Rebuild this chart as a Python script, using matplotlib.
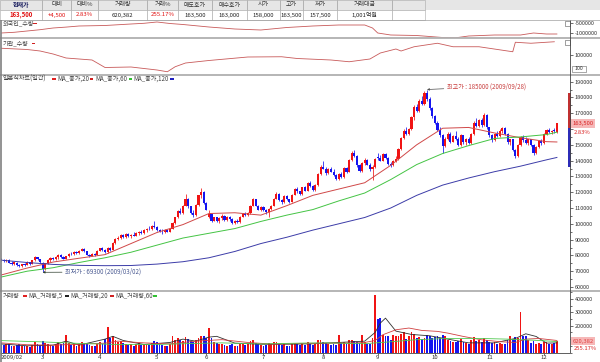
import numpy as np
import matplotlib
matplotlib.use('Agg')
import matplotlib.pyplot as plt
from matplotlib.patches import Rectangle
from matplotlib.ticker import MultipleLocator

plt.rcParams['font.family'] = ['Noto Sans CJK KR', 'DejaVu Sans']

# daily candles, thousand won (2009/02 .. 2009/12)
opens = [77.5, 77.0, 76.5, 77.0, 75.5, 74.5, 75.5, 74.0, 73.2, 74.5, 74.0, 75.8, 74.6, 76.8, 78.8, 77.5,
         75.5, 71.5, 75.0, 77.0, 78.2, 77.5, 79.0, 80.5, 79.0, 78.0, 79.5, 81.2, 80.6, 82.0, 81.5, 83.0,
         84.2, 82.5, 80.5, 79.8, 81.0, 80.2, 83.0, 84.5, 83.2, 82.0, 85.0, 83.5, 88.0, 90.5, 91.0, 93.0,
         91.5, 93.5, 92.0, 93.2, 92.5, 94.0, 95.0, 94.0, 96.0, 97.0, 96.5, 98.5, 98.0, 96.0, 95.0, 94.5,
         96.0, 95.0, 97.0, 100.5, 104.0, 108.0, 107.0, 111.5, 116.0, 111.0, 107.0, 105.5, 112.0, 118.0,
         120.0, 113.0, 104.0, 106.0, 102.0, 104.0, 101.5, 103.5, 105.0, 102.5, 104.5, 102.8, 100.5, 102.0,
         101.0, 104.5, 106.5, 105.5, 107.0, 111.5, 115.5, 111.5, 109.0, 110.5, 108.5, 107.5, 109.5, 111.5,
         116.0, 119.0, 115.0, 113.5, 117.5, 115.5, 114.0, 118.5, 122.0, 120.5, 119.0, 123.0, 121.0, 126.0,
         124.0, 121.5, 124.5, 131.5, 136.0, 135.0, 132.0, 135.0, 133.0, 131.0, 128.5, 131.5, 129.5, 135.5,
         133.0, 140.5, 145.0, 143.0, 137.0, 133.5, 138.5, 140.5, 137.5, 134.5, 136.0, 142.5, 141.5, 140.0,
         144.5, 141.5, 138.0, 137.0, 140.0, 141.0, 147.5, 154.5, 158.5, 157.0, 160.0, 167.5, 174.0, 171.5,
         178.0, 176.0, 183.0, 179.0, 173.0, 168.0, 164.0, 159.5, 156.0, 149.0, 154.0, 157.0, 152.0, 155.5,
         154.0, 150.0, 156.0, 151.5, 153.5, 151.0, 157.0, 164.0, 162.0, 166.0, 162.5, 169.0, 161.0, 156.0,
         153.0, 157.0, 155.5, 159.0, 160.5, 157.0, 151.5, 153.5, 147.0, 143.0, 150.0, 155.0, 153.0, 151.0,
         153.5, 150.0, 145.0, 148.5, 152.5, 151.0, 157.0, 159.5, 158.0, 159.5, 158.0]
highs = [78.5, 78.0, 77.8, 77.5, 76.5, 76.0, 76.0, 74.5, 74.8, 75.5, 76.2, 76.0, 77.0, 79.5, 79.2, 78.0,
         76.0, 75.5, 77.5, 78.8, 79.0, 79.5, 81.0, 81.0, 79.5, 79.8, 81.8, 82.0, 82.5, 82.8, 83.5, 84.7,
         84.5, 83.0, 81.2, 81.5, 81.5, 83.5, 85.0, 85.2, 84.0, 85.5, 85.5, 88.5, 91.0, 92.0, 93.5, 93.5,
         94.0, 94.2, 93.8, 94.5, 94.5, 95.5, 96.0, 96.5, 97.5, 98.5, 99.0, 102.0, 98.5, 97.0, 96.5, 96.5,
         96.8, 97.5, 101.0, 104.5, 108.5, 110.0, 112.0, 119.0, 116.5, 111.5, 108.5, 112.5, 118.5, 122.6,
         120.5, 113.5, 109.0, 106.5, 104.5, 104.5, 104.0, 106.0, 105.5, 105.0, 105.0, 103.5, 102.5, 103.0,
         105.0, 107.0, 107.5, 107.5, 112.0, 116.5, 116.0, 112.0, 111.0, 111.0, 109.5, 110.0, 112.0, 116.5,
         120.0, 119.5, 116.0, 118.0, 118.0, 116.0, 119.0, 122.5, 123.0, 121.0, 123.5, 124.0, 126.5, 127.0,
         124.5, 125.0, 132.0, 137.0, 140.0, 136.0, 135.5, 136.0, 134.5, 131.5, 132.0, 133.0, 136.0, 136.0,
         141.0, 146.0, 146.5, 143.5, 138.0, 139.0, 141.5, 141.0, 138.5, 137.0, 141.5, 145.0, 143.5, 145.0,
         145.0, 142.0, 139.0, 140.5, 143.0, 148.0, 155.0, 160.0, 161.0, 160.5, 168.0, 175.0, 176.0, 179.0,
         181.0, 184.0, 185.0, 180.0, 174.0, 169.0, 165.0, 161.0, 157.0, 155.0, 158.0, 158.0, 156.5, 158.5,
         155.0, 157.0, 156.5, 154.5, 155.0, 157.5, 165.0, 167.0, 166.5, 167.0, 170.0, 169.5, 161.5, 157.0,
         157.5, 158.5, 160.0, 161.0, 161.0, 157.5, 154.0, 154.0, 147.5, 150.5, 155.5, 156.0, 155.0, 154.0,
         154.0, 150.5, 149.0, 153.0, 153.5, 157.5, 160.0, 160.5, 159.5, 160.5, 163.5]
lows = [76.5, 76.0, 75.8, 75.0, 74.0, 74.0, 73.5, 72.8, 72.5, 73.5, 73.8, 74.2, 74.5, 76.5, 77.0, 75.5,
        69.3, 71.0, 74.5, 76.0, 76.8, 77.0, 78.0, 78.5, 77.5, 77.5, 79.0, 80.0, 80.2, 80.8, 81.0, 82.5,
        82.0, 80.0, 79.2, 79.5, 79.5, 80.0, 82.5, 82.8, 81.5, 81.8, 83.0, 83.2, 87.5, 89.5, 90.5, 90.8,
        91.0, 91.5, 91.0, 92.0, 92.0, 93.0, 93.5, 93.8, 95.0, 96.0, 96.0, 97.5, 95.5, 94.5, 93.8, 94.0,
        94.5, 94.8, 96.5, 100.0, 103.5, 106.0, 106.5, 111.0, 110.0, 106.5, 104.5, 105.0, 111.5, 116.5,
        112.5, 108.5, 103.5, 101.0, 101.5, 101.0, 100.5, 102.5, 102.0, 102.0, 102.0, 100.0, 99.8, 100.5,
        100.8, 104.0, 105.0, 105.0, 106.5, 111.0, 111.0, 108.5, 108.0, 108.0, 106.5, 104.0, 109.0, 111.0,
        115.5, 114.5, 112.5, 113.0, 115.0, 113.0, 113.5, 118.0, 119.5, 118.0, 118.5, 120.5, 120.5, 123.5,
        120.5, 121.0, 124.0, 131.0, 134.5, 131.0, 131.5, 132.5, 130.5, 128.0, 128.0, 129.0, 129.0, 132.0,
        132.5, 140.0, 142.0, 136.0, 132.5, 133.0, 137.5, 137.0, 133.5, 127.7, 135.5, 140.5, 139.5, 139.5,
        141.0, 137.5, 136.0, 136.5, 139.0, 140.5, 147.0, 153.5, 156.0, 156.5, 159.5, 166.0, 170.5, 171.0,
        175.0, 175.5, 178.0, 172.0, 167.0, 163.0, 158.5, 155.0, 145.0, 148.5, 153.0, 151.0, 151.5, 153.0,
        149.0, 149.5, 150.5, 150.0, 150.5, 150.5, 156.5, 161.0, 161.5, 161.5, 162.0, 160.0, 155.0, 152.0,
        152.5, 155.0, 155.0, 157.5, 156.0, 150.5, 150.0, 146.0, 141.6, 142.5, 149.5, 152.0, 150.5, 150.0,
        149.5, 143.5, 144.5, 148.0, 150.0, 150.5, 156.5, 157.5, 157.0, 157.5, 157.5]
closes = [77.0, 76.5, 77.2, 75.5, 74.5, 75.6, 74.0, 73.2, 74.5, 74.0, 75.8, 74.6, 76.8, 78.8, 77.5, 76.0,
          71.5, 75.0, 77.0, 78.2, 77.5, 79.0, 80.5, 79.0, 78.0, 79.5, 81.2, 80.6, 82.0, 81.5, 83.0, 84.2,
          82.5, 80.5, 79.8, 81.0, 80.2, 83.0, 84.5, 83.2, 82.0, 85.0, 83.5, 88.0, 90.5, 91.0, 93.0, 91.5,
          93.5, 92.0, 93.2, 92.5, 94.0, 95.0, 94.0, 96.0, 97.0, 96.5, 98.5, 98.0, 96.0, 95.0, 94.5, 96.0,
          95.0, 97.0, 100.5, 104.0, 108.0, 107.0, 111.5, 116.0, 111.0, 107.0, 105.5, 112.0, 118.0, 120.0,
          113.0, 109.0, 106.0, 102.0, 104.0, 101.5, 103.5, 105.0, 102.5, 104.5, 102.8, 100.5, 102.0, 101.0,
          104.5, 106.5, 105.5, 107.0, 111.5, 115.5, 111.5, 109.0, 110.5, 108.5, 107.5, 109.5, 111.5, 116.0,
          119.0, 115.0, 113.5, 117.5, 115.5, 114.0, 118.5, 122.0, 120.5, 119.0, 123.0, 121.0, 126.0, 124.0,
          121.5, 124.5, 131.5, 136.0, 135.0, 132.0, 135.0, 133.0, 131.0, 128.5, 131.5, 129.5, 135.5, 133.0,
          140.5, 145.0, 143.0, 137.0, 133.5, 138.5, 140.5, 137.5, 134.5, 136.0, 141.0, 141.5, 140.0, 144.5,
          141.5, 138.0, 137.0, 140.0, 141.0, 147.5, 154.5, 158.5, 157.0, 160.0, 167.5, 174.0, 171.5, 178.0,
          176.0, 183.0, 179.0, 173.0, 168.0, 164.0, 159.5, 156.0, 149.0, 154.0, 157.0, 152.0, 155.5, 154.0,
          150.0, 156.0, 151.5, 153.5, 151.0, 157.0, 164.0, 162.0, 166.0, 162.5, 169.0, 161.0, 156.0, 153.0,
          157.0, 155.5, 159.0, 160.5, 157.0, 151.5, 153.5, 147.0, 143.0, 150.0, 155.0, 153.0, 151.0, 153.5,
          150.0, 145.0, 148.5, 152.5, 151.0, 157.0, 159.5, 158.0, 159.0, 159.0, 163.5]
# daily volume, thousand shares
volume = [70, 55, 60, 65, 50, 45, 55, 60, 48, 45, 50, 42, 55, 75, 60, 55,
          85, 70, 60, 55, 50, 60, 75, 60, 70, 130, 70, 55, 60, 50, 65, 80,
          60, 70, 55, 50, 45, 65, 75, 60, 100, 190, 110, 120, 95, 80, 85, 70,
          65, 55, 60, 50, 60, 70, 55, 60, 65, 55, 70, 85, 75, 60, 55, 50,
          45, 60, 120, 95, 110, 90, 85, 115, 100, 85, 75, 90, 110, 125,
          120, 105, 180, 110, 75, 70, 60, 65, 55, 50, 55, 60, 50, 45,
          60, 65, 55, 60, 85, 90, 70, 65, 55, 50, 55, 70, 60, 75,
          80, 65, 55, 60, 50, 45, 65, 70, 60, 55, 70, 55, 75, 60,
          55, 60, 90, 95, 80, 70, 65, 55, 60, 55, 130, 70, 75, 65,
          90, 95, 85, 80, 70, 130, 75, 60, 65, 110, 430, 250, 255, 130,
          125, 120, 95, 130, 125, 120, 135, 155, 100, 125, 150, 135, 105, 115,
          100, 110, 130, 125, 105, 115, 125, 105, 130, 120, 95, 85, 80, 75,
          85, 100, 75, 70, 65, 90, 115, 85, 95, 80, 105, 90, 80, 70,
          75, 60, 70, 65, 60, 90, 120, 100, 115, 110, 300, 120, 125, 90,
          70, 85, 65, 70, 60, 75, 80, 65, 60, 70, 85]

month_idx = [0, 16, 38, 60, 79, 101, 124, 145, 167, 188, 209]
month_labels = ['2009/02', '3', '4', '5', '6', '7', '8', '9', '10', '11', '12']

# price moving averages, thousand won
ma_idx = [0, 10, 20, 30, 40, 50, 60, 70, 80, 90, 100, 110, 120, 130, 140, 150, 160, 170, 180, 190, 200, 210, 214]
ma20 = [67.6, 72.0, 75.8, 78.2, 80.5, 87.5, 94.5, 99.5, 106.5, 107.0, 105.5, 111.5, 118.0, 122.0, 126.0,
        137.0, 150.0, 160.5, 161.0, 157.5, 154.5, 152.0, 151.8]
ma60 = [66.3, 70.0, 72.2, 75.5, 78.5, 82.0, 86.5, 91.0, 94.0, 97.0, 101.5, 105.5, 109.0, 114.5, 119.5,
        128.0, 137.5, 144.5, 149.5, 154.0, 155.0, 156.5, 158.0]
ma120 = [77.0, 75.5, 74.3, 73.7, 73.5, 73.6, 74.5, 76.0, 78.5, 82.5, 87.5, 91.5, 96.0, 100.0, 104.0,
         110.0, 118.0, 124.5, 129.0, 133.0, 136.5, 140.5, 142.0]

# volume moving averages, thousand shares
vma5_idx = [0, 10, 20, 25, 30, 40, 43, 47, 55, 65, 70, 75, 80, 83, 90, 100, 110, 120, 130, 140,
            144, 146, 148, 152, 158, 165, 172, 180, 190, 198, 202, 206, 210, 214]
vma5 = [64, 50, 55, 85, 55, 100, 121, 90, 60, 75, 100, 85, 115, 121, 70, 62, 62, 65, 75, 85,
        150, 220, 257, 160, 135, 125, 100, 72, 72, 105, 140, 120, 70, 72]
vma20_idx = [0, 10, 20, 30, 40, 45, 55, 65, 75, 85, 95, 105, 115, 125, 135, 140, 144, 147, 152, 157,
             162, 168, 172, 178, 185, 192, 198, 202, 207, 214]
vma20 = [72, 58, 55, 62, 70, 85, 72, 65, 85, 96, 75, 62, 68, 70, 70, 75, 90, 133, 170, 183,
         165, 158, 145, 120, 95, 81, 75, 100, 105, 90]
vma60_idx = [0, 15, 30, 45, 60, 75, 85, 100, 115, 125, 140, 150, 160, 172, 185, 195, 205, 214]
vma60 = [89, 80, 68, 60, 60, 68, 72, 64, 70, 72, 66, 80, 96, 105, 105, 100, 92, 82]

# foreign / institution cumulative quantity, thousand shares
frgn_idx = [0, 5, 10, 15, 20, 25, 30, 40, 50, 55, 60, 65, 70, 80, 90, 100, 110, 120, 130, 140,
            143, 145, 150, 160, 170, 175, 180, 190, 200, 205, 210, 214]
frgn_qty = [-985, -950, -885, -820, -735, -690, -635, -610, -535, -500, -435, -510, -560, -685, -785,
            -835, -710, -635, -585, -585, -735, -985, -1085, -1110, -1210, -1225, -1135, -1085, -1085,
            -985, -1035, -1035]
inst_idx = [0, 10, 15, 20, 25, 35, 40, 50, 55, 60, 64, 67, 71, 80, 95, 108, 114, 127, 134, 142,
            146, 152, 154, 159, 168, 174, 184, 197, 198, 204, 213]
inst_qty = [154, 144, 132, 108, 76, 60, 0, 4, -8, -20, -34, 6, 36, 56, 84, 86, 72, 60, 46, 68,
            116, 148, 132, 166, 194, 166, 166, 126, 202, 194, 206]

hdr_labels = ['현재가', '대비', '대비%', '거래량', '거래%', '매도호가', '매수호가', '시가', '고가', '저가', '거래대금', '']
hdr_values = ['163,500', '+4,500', '2.83%', '620,382', '255.17%', '163,500', '163,000', '158,000',
              '163,500', '157,500', '1,001억원', '']
high_date = '2009/09/28'
low_date = '2009/03/02'

# ---------------------------------------------------------------
W, H = 600, 362
X0, STEP = 1.15, 2.597
LEFT, RIGHT = 1, 570
UP, DN = '#f01414', '#1414f0'
TXT = '#404040'

fig = plt.figure(figsize=(W / 100, H / 100), dpi=100)
fig.patch.set_facecolor('white')


def panel(top, bottom):
    ax = fig.add_axes([LEFT / W, 1 - bottom / H, (RIGHT - LEFT) / W, (bottom - top) / H])
    ax.set_xlim((LEFT - X0) / STEP, (RIGHT - X0) / STEP)
    ax.patch.set_alpha(0)
    for s in ax.spines.values():
        s.set_visible(False)
    ax.set_xticks([])
    ax.yaxis.tick_right()
    ax.tick_params(axis='y', which='both', direction='out', length=2.2, width=0.5,
                   colors='#333333', labelsize=4.0, pad=1.2)
    ax.tick_params(axis='y', which='minor', length=1.2)
    return ax


o = np.array(opens) * 1000
h = np.array(highs) * 1000
l = np.array(lows) * 1000
c = np.array(closes) * 1000
v = np.array(volume) * 1000
idx = np.arange(len(c))
cols = np.where(c >= o, UP, DN)

# foreign
ax_f = panel(20, 38)
ax_f.plot(frgn_idx, frgn_qty, color='#c85a5a', lw=0.6)
ax_f.set_ylim(-1235, -335)
ax_f.set_yticks([-500, -1000], ['-500000', '-1000000'])

# institution
ax_i = panel(38.5, 74.5)
ax_i.plot(inst_idx, inst_qty, color='#c85a5a', lw=0.6)
ax_i.set_ylim(-56, 232)
ax_i.set_yticks([100], ['100000'])

# price
ax_p = panel(75, 290)
ax_p.vlines(idx, l, h, colors=cols, lw=0.55)
ax_p.bar(idx, np.maximum(np.abs(c - o), 250), bottom=np.minimum(o, c), width=0.82, color=cols, lw=0)
ax_p.plot(ma_idx, np.array(ma20) * 1000, color='#d04848', lw=0.7)
ax_p.plot(ma_idx, np.array(ma60) * 1000, color='#44c444', lw=0.7)
ax_p.plot(ma_idx, np.array(ma120) * 1000, color='#3c3ca8', lw=0.7)
ax_p.set_ylim(58100, 194200)
ax_p.yaxis.set_major_locator(MultipleLocator(10000))
ax_p.yaxis.set_minor_locator(MultipleLocator(5000))
# the scale label hidden behind the current-price box is left out
ax_p.yaxis.set_major_formatter(lambda y, p: '' if -9000 < y - c[-1] < 4000 else f'{int(y)}')

hi = int(np.argmax(h))
lo = int(np.argmin(l))
ax_p.annotate(f'최고가 : {int(h[hi])} ({high_date})', xy=(hi, h[hi]), xytext=(hi + 7.5, h[hi] + 1800),
              fontsize=4.4, color='#c83c3c', ha='left', va='center',
              arrowprops=dict(arrowstyle='-|>', lw=0.5, color='#505050', mutation_scale=3,
                              shrinkA=0, shrinkB=0))
ax_p.annotate(f'최저가 : {int(l[lo])} ({low_date})', xy=(lo, l[lo]), xytext=(lo + 8.5, l[lo] + 200),
              fontsize=4.4, color='#485890', ha='left', va='center',
              arrowprops=dict(arrowstyle='-|>', lw=0.5, color='#304030', mutation_scale=3,
                              shrinkA=0, shrinkB=0))

# range marker on the price scale
yt = ax_p.get_yaxis_transform()
ax_p.add_patch(Rectangle((0.9965, 160600), 0.006, 22200, transform=yt, fc='#c03030', ec='none', clip_on=False))
ax_p.add_patch(Rectangle((0.9965, 136000), 0.006, 24600, transform=yt, fc='#2c2cb8', ec='none', clip_on=False))
ax_p.text(1.004, c[-1], f'{int(c[-1]):,}', transform=yt, ha='left', va='center', fontsize=4.2,
          color='#d82020', bbox=dict(boxstyle='square,pad=0.3', fc='#f6b8b8', ec='none'), clip_on=False)
ax_p.text(1.006, c[-1] - 5800, hdr_values[2], transform=yt, ha='left', va='center', fontsize=4.2,
          color='#d82020', clip_on=False)

# volume
ax_v = panel(291, 352.5)
ax_v.bar(idx, v, width=0.7, color=cols, lw=0)
ax_v.plot(vma5_idx, np.array(vma5) * 1000, color='#303030', lw=0.6)
ax_v.plot(vma20_idx, np.array(vma20) * 1000, color='#d04040', lw=0.6)
ax_v.plot(vma60_idx, np.array(vma60) * 1000, color='#50c850', lw=0.6)
ax_v.set_ylim(0, 460000)
ax_v.set_yticks([200000, 300000, 400000], ['200000', '300000', '400000'])
ax_v.yaxis.set_minor_locator(MultipleLocator(50000))
ax_v.set_xticks(month_idx, month_labels)
ax_v.tick_params(axis='x', direction='out', length=1.5, width=0.5, colors='#333333', labelsize=4.3, pad=0.5)
ax_v.get_xticklabels()[0].set_ha('left')
yv = ax_v.get_yaxis_transform()
ax_v.text(1.004, v[-1], hdr_values[3], transform=yv, ha='left', va='center', fontsize=4.2,
          color='#e04040', bbox=dict(boxstyle='square,pad=0.3', fc='#f6b8b8', ec='none'), clip_on=False)
ax_v.text(1.006, v[-1] - 52000, hdr_values[4], transform=yv, ha='left', va='center', fontsize=4.2,
          color='#d82020', clip_on=False)

# overlay in pixel coordinates: table, separators, panel titles
ov = fig.add_axes([0, 0, 1, 1], zorder=10)
ov.set_xlim(0, W)
ov.set_ylim(H, 0)
ov.axis('off')
ov.patch.set_alpha(0)

edges = [0, 42, 71, 98, 147, 178, 212, 247, 280, 303, 337, 392, 425]
ov.add_patch(Rectangle((0, 0), W, 10, fc='#e6e6e6', ec='none'))
for i in range(len(edges) - 1):
    x1, x2 = edges[i], edges[i + 1]
    ov.add_patch(Rectangle((x1, 0), x2 - x1, 10, fc='none', ec='#a8a8a8', lw=0.4))
    ov.add_patch(Rectangle((x1, 10), x2 - x1, 10, fc='white', ec='#a8a8a8', lw=0.4))
    bold = i == 0
    ov.text((x1 + x2) / 2, 5, hdr_labels[i], ha='center', va='center', fontsize=4.3,
            color='#1c2060' if bold else '#333333', fontweight='bold' if bold else 'normal')
    red = hdr_values[i].startswith('+') or hdr_values[i].endswith('%') or i == 0
    ov.text((x1 + x2) / 2, 15, hdr_values[i], ha='center', va='center', fontsize=4.3,
            color='#e01010' if red else '#222222', fontweight='bold' if bold else 'normal')
ov.hlines(20, 0, W, color='#a0a0a0', lw=0.5)
for y in (38.3, 74.7, 290.5):
    ov.hlines(y, 0, W, color='#b0b0b0', lw=1.3)
ov.hlines(352.5, 0, RIGHT, color='#444444', lw=0.6)
ov.vlines(RIGHT, 20, 352.5, color='#444444', lw=0.6)
ov.vlines(0.7, 20, H, color='#808080', lw=1.2)

# small scale buttons
for (bx, by) in [(564.5, 21), (564.5, 40)]:
    ov.add_patch(Rectangle((bx, by), 5, 5, fc='white', ec='#555555', lw=0.4))
ov.add_patch(Rectangle((572, 65.5), 14, 6.5, fc='white', ec='#666666', lw=0.4))
ov.text(579, 68.8, '100', ha='center', va='center', fontsize=3.8, color='#333333')


def title(items, y):
    for x, s, col in items:
        if s:
            ov.text(x, y, s, ha='left', va='center', fontsize=4.4, color=TXT)
        else:
            ov.add_patch(Rectangle((x, y - 0.8), 3.6, 1.6, fc=col, ec='none'))


title([(3, '외국인_수량', None), (33, '', '#d02020')], 23.3)
title([(3, '기관_수량', None), (31.5, '', '#d02020')], 43.3)
title([(3, '일본식차트(일간)', None), (52, '', '#e02020'), (57, 'MA_종가,20', None), (89.5, '', '#d02020'),
       (95, 'MA_종가,60', None), (128.5, '', '#30c030'), (133, 'MA_종가,120', None), (170, '', '#2020c0')], 79)
title([(3, '거래량', None), (23, '', '#e02020'), (28, 'MA_거래량,5', None), (65, '', '#202020'),
       (70, 'MA_거래량,20', None), (110, '', '#d02020'), (115, 'MA_거래량,60', None), (153, '', '#30c030')], 296)

fig.savefig('out.png', dpi=100, facecolor='white')
